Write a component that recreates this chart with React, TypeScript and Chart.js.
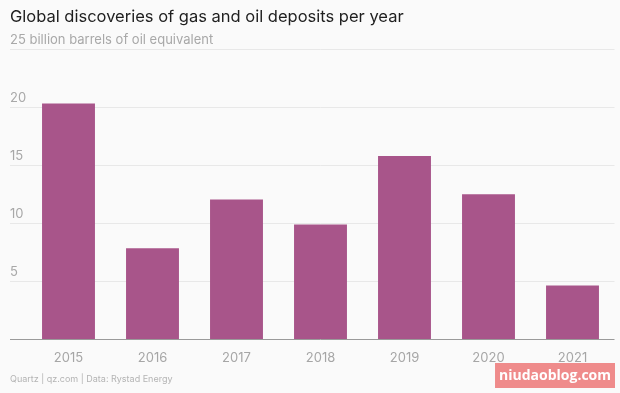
import React, { useEffect, useRef } from "react";
import { Chart, registerables } from "chart.js";

Chart.register(...registerables);

const title = "Global discoveries of gas and oil deposits per year";
const unitLabel = "billion barrels of oil equivalent";
const footer = "Quartz | qz.com | Data: Rystad Energy";
const watermark = "niudaoblog.com";
const years = ["2015", "2016", "2017", "2018", "2019", "2020", "2021"];
const discoveries = [20.3, 7.85, 12.05, 9.9, 15.8, 12.5, 4.65];
const yMax = 25;
const yStep = 5;

const FONT = "Inter, 'Noto Sans', Arial, sans-serif";

export default function App() {
  const ref = useRef<HTMLCanvasElement | null>(null);

  useEffect(() => {
    document.body.style.margin = "0";
    const canvas = ref.current;
    if (!canvas) return;

    const decor = {
      id: "decor",
      beforeDraw(chart: any) {
        const { ctx, width, height } = chart;
        ctx.save();
        ctx.fillStyle = "#fafafa";
        ctx.fillRect(0, 0, width, height);
        ctx.restore();
      },
      afterDraw(chart: any) {
        const { ctx } = chart;
        ctx.save();
        ctx.textBaseline = "middle";
        ctx.textAlign = "left";
        ctx.fillStyle = "#1e1e1e";
        ctx.font = `400 16.5px ${FONT}`;
        ctx.fillText(title, 10, 17);
        ctx.fillStyle = "#b4b4b4";
        ctx.font = `400 9px ${FONT}`;
        ctx.fillText(footer, 10, 379);
        // watermark
        ctx.font = `700 14px 'Open Sans', ${FONT}`;
        const w = ctx.measureText(watermark).width;
        ctx.fillStyle = "#ef8b8b";
        ctx.fillRect(615 - w - 8, 363, w + 8, 25);
        ctx.fillStyle = "#ffffff";
        ctx.fillText(watermark, 615 - w - 4, 376);
        ctx.restore();
      },
    };

    const chart = new Chart(canvas, {
      type: "bar",
      data: {
        labels: years,
        datasets: [
          {
            data: discoveries,
            backgroundColor: "#a8558a",
            barPercentage: 0.63,
            categoryPercentage: 1,
          },
        ],
      },
      options: {
        animation: false,
        responsive: false,
        maintainAspectRatio: false,
        layout: { padding: { left: 10, right: 5.5, top: 49, bottom: 23.5 } },
        plugins: {
          legend: { display: false },
          title: { display: false },
          tooltip: { enabled: false },
        },
        scales: {
          x: {
            grid: { display: false },
            border: { display: false },
            ticks: {
              color: "#a6a6a6",
              font: { family: FONT, size: 13 },
              padding: 3,
              maxRotation: 0,
            },
            afterFit(scale: any) {
              scale.height = 30;
            },
          },
          y: {
            min: 0,
            max: yMax,
            grid: {
              color: (c: any) => (c.tick && c.tick.value === 0 ? "#9a9a9a" : "#e8e8e8"),
              tickColor: (c: any) => (c.tick && c.tick.value === 0 ? "#9a9a9a" : "#e8e8e8"),
              tickLength: 16.5,
              lineWidth: 1,
            },
            border: { display: false },
            ticks: {
              stepSize: yStep,
              autoSkip: false,
              mirror: true,
              padding: -16.5,
              color: "#a8a8a8",
              font: { family: FONT, size: 13 },
              crossAlign: "near",
              labelOffset: -9,
              callback: (v: any, i: number, ticks: any[]) =>
                Number(v) === 0 ? "" : i === ticks.length - 1 ? `${v} ${unitLabel}` : String(v),
            },
            afterFit(scale: any) {
              scale.width = 16.5;
            },
          },
        },
      },
      plugins: [decor],
    });

    return () => chart.destroy();
  }, []);

  return <canvas ref={ref} width={620} height={393} style={{ display: "block" }} />;
}
